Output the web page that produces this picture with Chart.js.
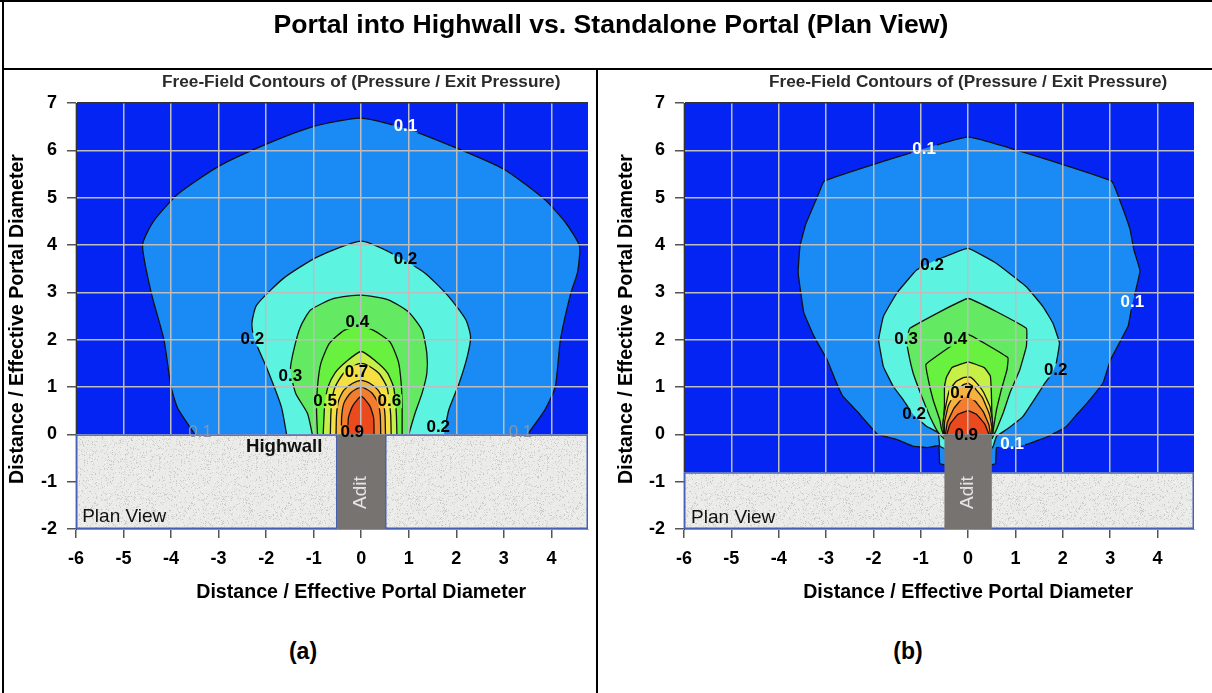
<!DOCTYPE html>
<html>
<head>
<meta charset="utf-8">
<title>Portal into Highwall vs. Standalone Portal (Plan View)</title>
<script src="https://cdn.jsdelivr.net/npm/chart.js@4.4.1/dist/chart.umd.min.js"></script>
<style>
  html, body { margin: 0; padding: 0; background: #fff; }
  body { position: relative; width: 1212px; height: 693px; overflow: hidden;
         font-family: "Liberation Sans", Arial, Helvetica, sans-serif; color: #000; }
  .panel { position: absolute; top: 70px; height: 540px; }
  .rule { position: absolute; background: #000; }
  #heading { position: absolute; left: 0; top: 8px; width: 1222px; text-align: center;
             font-weight: bold; font-size: 26.6px; line-height: 32px; }
  .tag { position: absolute; top: 636px; width: 80px; text-align: center;
         font-weight: bold; font-size: 23px; line-height: 30px; }
</style>
</head>
<body>
<div class="panel" style="left:0;width:596px"><canvas id="highwall" width="596" height="540"></canvas></div>
<div class="panel" style="left:600px;width:612px"><canvas id="standalone" width="612" height="540"></canvas></div>

<div class="rule" style="left:0;top:0;width:1212px;height:2px"></div>
<div class="rule" style="left:2px;top:0;width:2px;height:693px"></div>
<div class="rule" style="left:2px;top:68px;width:1210px;height:2px"></div>
<div class="rule" style="left:596px;top:69px;width:2px;height:624px"></div>

<div id="heading">Portal into Highwall vs. Standalone Portal (Plan View)</div>
<div class="tag" style="left:263px">(a)</div>
<div class="tag" style="left:868px">(b)</div>

<script>
const FONT = "'Liberation Sans', Arial, Helvetica, sans-serif";
Chart.defaults.font.family = FONT;

// Contour levels of pressure / exit pressure
const LEVELS = [0.1, 0.2, 0.3, 0.4, 0.5, 0.6, 0.7, 0.8, 0.9];

// Axis ranges and ticks (distance / effective portal diameter)
const X_MIN = -6, X_MAX = 4.77, Y_MIN = -2, Y_MAX = 7;

// (a) Portal into highwall: each outline runs from the wall on the left, over the top, back to the wall
const hw01 = [[-3.5,0],[-3.86,0.55],[-4.0,1.0],[-4.15,2.0],[-4.42,3.0],[-4.6,4.0],[-4.37,4.5],[-3.86,5.07],[-3.0,5.66],[-1.97,6.14],[-0.98,6.51],[0,6.68],[1.0,6.44],[2.0,6.05],[3.0,5.6],[3.86,4.96],[4.3,4.47],[4.59,3.98],[4.55,3.42],[4.41,2.99],[4.19,2.0],[4.08,1.0],[3.86,0.51],[3.5,0]];
const hw02 = [[-1.57,0],[-1.68,0.58],[-1.97,1.36],[-2.26,2.04],[-2.3,2.35],[-2.2,2.73],[-1.63,3.3],[-0.92,3.75],[0,4.08],[0.71,3.79],[1.35,3.4],[1.84,2.91],[2.2,2.42],[2.3,2.06],[2.23,1.64],[2.06,1.08],[1.84,0.51],[1.74,0]];
const hw03 = [[-1.03,0],[-1.13,0.44],[-1.38,0.87],[-1.49,1.36],[-1.42,1.78],[-1.28,2.27],[-1.06,2.63],[-0.57,2.87],[0,2.94],[0.57,2.84],[0.99,2.59],[1.28,2.2],[1.38,1.71],[1.38,1.29],[1.28,0.87],[1.13,0.44],[1.0,0]];
const hw04 = [[-0.92,0],[-0.94,0.51],[-0.92,1.01],[-0.85,1.5],[-0.67,1.92],[-0.35,2.2],[0,2.27],[0.25,2.2],[0.6,1.96],[0.78,1.54],[0.84,1.08],[0.86,0.6],[0.86,0]];
const hw05 = [[-0.8,0],[-0.78,0.45],[-0.76,0.7],[-0.7,1.0],[-0.55,1.3],[-0.3,1.55],[0,1.75],[0.3,1.55],[0.55,1.3],[0.68,1.0],[0.72,0.7],[0.74,0.4],[0.75,0]];
const hw06 = [[-0.65,0],[-0.64,0.4],[-0.62,0.7],[-0.55,1.0],[-0.38,1.28],[-0.15,1.45],[0,1.5],[0.15,1.45],[0.38,1.28],[0.54,1.0],[0.59,0.7],[0.62,0.4],[0.63,0]];
const hw07 = [[-0.53,0],[-0.52,0.4],[-0.48,0.7],[-0.37,0.93],[-0.18,1.08],[0,1.14],[0.18,1.08],[0.36,0.93],[0.46,0.7],[0.5,0.4],[0.51,0]];
const hw08 = [[-0.42,0],[-0.41,0.4],[-0.36,0.67],[-0.22,0.88],[0,1.0],[0.22,0.88],[0.35,0.67],[0.4,0.4],[0.41,0]];
const hw09 = [[-0.28,0],[-0.27,0.35],[-0.18,0.6],[0,0.8],[0.18,0.6],[0.26,0.35],[0.27,0]];

// (a) contour labels
const hwLabelText = ['0.1','0.2','0.2','0.4','0.3','0.7','0.5','0.6','0.9','0.2','0.1','0.1'];
const hwLabelX    = [0.93, 0.93, -2.29, -0.08, -1.49, -0.1, -0.76, 0.59, -0.19, 1.62, -3.39, 3.35];
const hwLabelY    = [6.51, 3.7, 2.0, 2.37, 1.23, 1.31, 0.7, 0.7, 0.04, 0.15, 0.04, 0.04];

// (b) Standalone portal: outlines start and end at the adit walls
const sa01 = [[-0.5,-0.64],[-0.6,-0.62],[-0.62,-0.24],[-0.85,-0.28],[-1.17,-0.25],[-1.5,-0.11],[-1.91,0.0],[-2.32,0.46],[-2.65,0.81],[-2.81,1.16],[-2.98,1.58],[-3.26,2.08],[-3.47,2.57],[-3.59,3.42],[-3.55,3.98],[-3.43,4.44],[-3.18,5.03],[-3.04,5.35],[0,6.28],[3.03,5.35],[3.22,4.9],[3.42,4.33],[3.5,3.9],[3.63,3.45],[3.46,2.71],[3.38,2.29],[3.01,1.58],[2.85,1.09],[2.52,0.67],[2.27,0.39],[2.07,0.16],[1.7,-0.04],[1.21,-0.22],[0.88,-0.28],[0.6,-0.28],[0.58,-0.62],[0.5,-0.64]];
const sa02 = [[-0.5,-0.3],[-0.6,-0.25],[-0.63,0.03],[-0.88,0.17],[-1.16,0.42],[-1.37,0.73],[-1.58,1.01],[-1.79,1.43],[-1.89,2.0],[-1.79,2.49],[-1.51,2.98],[-1.09,3.47],[-0.74,3.65],[0,3.93],[0.6,3.61],[1.23,3.12],[1.58,2.7],[1.79,2.35],[1.93,1.93],[1.86,1.5],[1.78,1.3],[1.6,1.05],[1.44,0.8],[1.16,0.38],[0.81,0.1],[0.6,-0.04],[0.53,-0.25],[0.5,-0.3]];
const sa03 = [[-0.5,-0.1],[-0.6,0.0],[-0.67,0.1],[-0.81,0.38],[-0.98,0.8],[-1.16,1.29],[-1.26,1.72],[-1.3,2.0],[-1.23,2.24],[0,2.87],[1.23,2.24],[1.23,1.86],[1.09,1.36],[0.88,0.87],[0.74,0.45],[0.6,0.1],[0.5,-0.1]];
const sa04 = [[-0.5,-0.05],[-0.56,0.1],[-0.6,0.31],[-0.74,0.73],[-0.84,1.15],[-0.89,1.48],[-0.28,1.92],[0,2.11],[0.84,1.62],[0.82,1.36],[0.7,0.94],[0.6,0.52],[0.53,0.1],[0.5,-0.05]];
const sa05 = [[-0.5,0],[-0.53,0.2],[-0.5,0.6],[-0.5,1.0],[-0.46,1.2],[-0.34,1.41],[0,1.53],[0.34,1.41],[0.47,1.23],[0.49,0.9],[0.5,0.5],[0.52,0]];
const sa06 = [[-0.52,0],[-0.53,0.24],[-0.46,0.66],[-0.39,0.94],[-0.25,1.12],[-0.1,1.2],[0.05,1.21],[0.15,1.12],[0.32,0.9],[0.46,0.59],[0.52,0.24],[0.52,0]];
const sa07 = [[-0.5,0],[-0.5,0.25],[-0.42,0.6],[-0.28,0.88],[-0.1,1.05],[0,1.08],[0.12,1.0],[0.3,0.78],[0.44,0.45],[0.5,0.15],[0.5,0]];
const sa08 = [[-0.48,0],[-0.44,0.25],[-0.3,0.55],[-0.12,0.76],[0,0.8],[0.15,0.7],[0.32,0.48],[0.44,0.2],[0.47,0]];
const sa09 = [[-0.45,0],[-0.38,0.22],[-0.22,0.42],[0,0.5],[0.18,0.42],[0.35,0.22],[0.44,0]];

// (b) contour labels
const saLabelText = ['0.1','0.1','0.2','0.3','0.4','0.2','0.7','0.2','0.9','0.1'];
const saLabelX    = [-0.93, 3.47, -0.76, -1.31, -0.27, 1.85, -0.13, -1.14, -0.04, 0.93];
const saLabelY    = [6.03, 2.79, 3.57, 2.0, 2.0, 1.35, 0.87, 0.42, -0.02, -0.21];

// Colour scale, field below the lowest level first
const FIELD_BLUE = '#0424f3';
const BAND_COLORS = ['#1a8bf5','#5cf4e0','#64ea62','#68f13e','#c6f048','#f4e042','#f6b23e','#f47c2e','#eb4a1e'];
const LABEL_FONT = 'bold 17px ' + FONT;

// Speckled fill for the rock surface
function rockPattern(ctx) {
  const c = document.createElement('canvas');
  c.width = c.height = 97;
  const g = c.getContext('2d');
  g.fillStyle = '#ebebe9';
  g.fillRect(0, 0, c.width, c.height);
  let seed = 40503;
  const next = () => (seed = (seed * 16807) % 2147483647) / 2147483647;
  for (let i = 0; i < 2600; i++) {
    const v = 196 + Math.floor(next() * 52);
    g.fillStyle = `rgb(${v},${v},${v - 3})`;
    g.fillRect(Math.floor(next() * c.width), Math.floor(next() * c.height), 1, 1);
  }
  return ctx.createPattern(c, 'repeat');
}

function drawText(ctx, str, x, y, font, color, align, rotate) {
  ctx.save();
  ctx.translate(x, y);
  if (rotate) ctx.rotate(rotate);
  ctx.font = font;
  ctx.fillStyle = color;
  ctx.textAlign = align || 'center';
  ctx.textBaseline = 'middle';
  ctx.fillText(str, 0, 0);
  ctx.restore();
}

// Field background, breaks in the contour lines, rock, adit and annotation text
function decorations(spec) {
  return {
    id: 'decorations',
    beforeDatasetsDraw(chart) {
      const {ctx, chartArea: a} = chart;
      ctx.save();
      ctx.fillStyle = FIELD_BLUE;
      ctx.fillRect(a.left, a.top, a.right - a.left, a.bottom - a.top);
      ctx.restore();
    },
    // the fill is already painted; keep the outline off the label boxes
    beforeDatasetDraw(chart) {
      const {ctx} = chart;
      const sx = chart.scales.x, sy = chart.scales.y;
      ctx.save();
      ctx.font = LABEL_FONT;
      ctx.beginPath();
      ctx.rect(0, 0, chart.width, chart.height);
      spec.labelText.forEach((t, i) => {
        if (spec.labelInk[i] === 'faint') return;
        const w = ctx.measureText(t).width + 2;
        const cx = sx.getPixelForValue(spec.labelX[i]), cy = sy.getPixelForValue(spec.labelY[i]);
        ctx.rect(cx - w / 2, cy - 7, w, 14);
      });
      ctx.clip('evenodd');
    },
    afterDatasetDraw(chart) {
      chart.ctx.restore();
    },
    afterDraw(chart) {
      const {ctx, chartArea: a} = chart;
      const sx = chart.scales.x, sy = chart.scales.y;
      const px = v => sx.getPixelForValue(v), py = v => sy.getPixelForValue(v);

      ctx.save();
      ctx.beginPath();
      ctx.rect(a.left, a.top, a.right - a.left, a.bottom - a.top);
      ctx.clip();

      // rock surface
      const rock = rockPattern(ctx);
      spec.rock.forEach(([x0, x1, y0, y1]) => {
        const l = px(x0), r = px(x1), t = py(y1), b = py(y0);
        ctx.fillStyle = rock;
        ctx.fillRect(l, t, r - l, b - t);
        ctx.strokeStyle = '#4660b4';
        ctx.lineWidth = 1.5;
        ctx.strokeRect(l + 0.75, t + 0.75, r - l - 1.5, b - t - 1.5);
      });

      // adit
      const [ax0, ax1, ay0, ay1] = spec.adit;
      ctx.fillStyle = '#767371';
      ctx.fillRect(px(ax0), py(ay1), px(ax1) - px(ax0), py(ay0) - py(ay1));
      drawText(ctx, 'Adit', px((ax0 + ax1) / 2), py(spec.aditTextY), '19px ' + FONT, '#e4e4e4', 'center', -Math.PI / 2);

      ctx.restore();

      // contour labels
      spec.labelText.forEach((t, i) => {
        const ink = spec.labelInk[i];
        if (ink === 'faint') {
          drawText(ctx, t, px(spec.labelX[i]), py(spec.labelY[i]), '17px ' + FONT, '#8a96a6');
        } else {
          drawText(ctx, t, px(spec.labelX[i]), py(spec.labelY[i]), LABEL_FONT, ink);
        }
      });

      // notes on the plan
      spec.notes.forEach(n => drawText(ctx, n.text, px(n.x), py(n.y), n.font, '#111', n.align));

      // chart and axis titles
      drawText(ctx, 'Free-Field Contours of (Pressure / Exit Pressure)', px(0), 12, 'bold 17.2px ' + FONT, '#2a2a2a');
      drawText(ctx, 'Distance / Effective Portal Diameter', px(0), 523, 'bold 19.6px ' + FONT, '#000');
      drawText(ctx, 'Distance / Effective Portal Diameter', spec.yTitleX, 249, 'bold 19.6px ' + FONT, '#000', 'center', -Math.PI / 2);
    }
  };
}

function contourChart(canvasId, spec) {
  const datasets = spec.contours.map((pts, i) => ({
    label: LEVELS[i].toFixed(1),
    data: pts.map(([x, y]) => ({x, y})),
    showLine: true,
    fill: 'shape',
    backgroundColor: BAND_COLORS[i],
    borderColor: '#111',
    borderWidth: 1.3,
    pointRadius: 0,
    pointHoverRadius: 0,
    tension: spec.tension,
    order: spec.contours.length - i
  }));
  const tickFont = {size: 18, weight: 'bold'};
  return new Chart(document.getElementById(canvasId), {
    type: 'scatter',
    data: {datasets},
    options: {
      responsive: false,
      animation: false,
      events: [],
      layout: {padding: {left: 0, right: spec.padRight, top: 33, bottom: 0}},
      plugins: {legend: {display: false}, tooltip: {enabled: false}, title: {display: false}},
      scales: {
        x: {
          type: 'linear', min: X_MIN, max: X_MAX,
          afterFit(s) { s.height = 81; },
          ticks: {stepSize: 1, includeBounds: false, color: '#000', font: tickFont, padding: 10, maxRotation: 0},
          grid: {z: 1, color: '#bdbdbd', lineWidth: 1.5, tickLength: 9, tickColor: '#555'},
          border: {z: 1, display: true, color: '#4660b4', width: 1}
        },
        y: {
          type: 'linear', min: Y_MIN, max: Y_MAX,
          afterFit(s) { s.width = spec.axisWidth; },
          ticks: {stepSize: 1, includeBounds: false, color: '#000', font: tickFont, padding: 10},
          grid: {
            z: 1,
            color: c => (c.tick && c.tick.value === Y_MAX ? '#333' : '#bdbdbd'),
            lineWidth: 1.5, tickLength: 9, tickColor: '#555'
          },
          border: {z: 1, display: true, color: '#333', width: 1}
        }
      }
    },
    plugins: [decorations(spec)]
  });
}

contourChart('highwall', {
  contours: [hw01, hw02, hw03, hw04, hw05, hw06, hw07, hw08, hw09],
  labelText: hwLabelText, labelX: hwLabelX, labelY: hwLabelY,
  labelInk: ['#fff', '#000', '#000', '#000', '#000', '#000', '#000', '#000', '#000', '#000', 'faint', 'faint'],
  rock: [[X_MIN, -0.5, Y_MIN, 0], [0.5, X_MAX, Y_MIN, 0]],
  adit: [-0.5, 0.5, Y_MIN, 0],
  aditTextY: -1.23,
  notes: [
    {text: 'Highwall', x: -1.62, y: -0.27, font: 'bold 18.6px ' + FONT, align: 'center'},
    {text: 'Plan View', x: -5.87, y: -1.75, font: '19px ' + FONT, align: 'left'}
  ],
  tension: 0.2,
  axisWidth: 76,
  padRight: 8,
  yTitleX: 18
});

contourChart('standalone', {
  contours: [sa01, sa02, sa03, sa04, sa05, sa06, sa07, sa08, sa09],
  labelText: saLabelText, labelX: saLabelX, labelY: saLabelY,
  labelInk: ['#fff', '#fff', '#000', '#000', '#000', '#000', '#000', '#000', '#000', '#fff'],
  rock: [[X_MIN, X_MAX, Y_MIN, -0.8]],
  adit: [-0.5, 0.5, Y_MIN, 0],
  aditTextY: -1.23,
  notes: [
    {text: 'Plan View', x: -5.85, y: -1.77, font: '19px ' + FONT, align: 'left'}
  ],
  tension: 0.08,
  axisWidth: 84,
  padRight: 18,
  yTitleX: 27
});
</script>
</body>
</html>
